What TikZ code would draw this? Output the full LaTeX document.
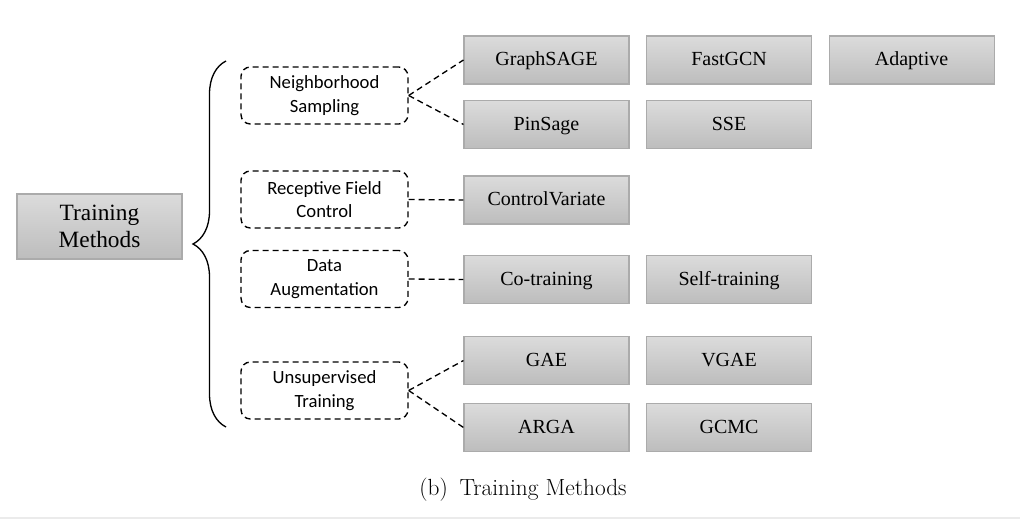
\documentclass[tikz,border=0pt]{standalone}
\usepackage{fontspec}
\usepackage{tikz}
\usetikzlibrary{positioning,decorations.pathreplacing}
\newfontfamily\catfont{Carlito}
\newfontfamily\boxfont{Liberation Serif}

\tikzset{
  method/.style={draw=black!33, line width=0.8pt, top color=black!14, bottom color=black!26,
    minimum width=123.75pt, minimum height=36pt, inner sep=0pt,
    text height=0.9em, text depth=0pt,
    font=\boxfont\fontsize{15}{17}\selectfont},
  root/.style={method, minimum height=48.75pt, align=center, text height=, text depth=,
    font=\boxfont\fontsize{17.5}{20}\selectfont},
  category/.style={draw, dash pattern=on 4.5pt off 3pt, line width=1pt, rounded corners=7pt,
    minimum width=125.25pt, minimum height=42.75pt, inner sep=0pt, align=center,
    font=\catfont\fontsize{14}{17.5}\selectfont},
  link/.style={dash pattern=on 4.5pt off 3pt, line width=1pt}
}

\begin{document}
\begin{tikzpicture}[x=0.75pt,y=-0.75pt,node distance=136.9pt]
            \useasboundingbox (0,0) rectangle (1020,520);
            \draw[black!8, line width=1pt] (0,518) -- (1020,518);

            \node[root]     (train) at (99.5,226.5) {Training\\Methods};

            \node[category] (ns) at (324.5,95.5)  {Neighborhood\\Sampling};
            \node[category] (rf) at (324.5,199.5) {Receptive Field\\Control};
            \node[category] (da) at (324.5,279)   {Data\\Augmentation};
            \node[category] (ut) at (324.5,390.5) {Unsupervised\\Training};

            \node[method] (graphsage) at (546.5,60)    {GraphSAGE};
            \node[method] (fastgcn)   [right of=graphsage] {FastGCN};
            \node[method] (adaptive)  [right of=fastgcn]   {Adaptive};
            \node[method] (pinsage)   at (546.5,124.5) {PinSage};
            \node[method] (sse)       [right of=pinsage]   {SSE};
            \node[method] (cv)        at (546.5,200)   {ControlVariate};
            \node[method] (cotrain)   at (546.5,279.5) {Co-training};
            \node[method] (selftrain) [right of=cotrain]   {Self-training};
            \node[method] (gae)       at (546.5,360.5) {GAE};
            \node[method] (vgae)      [right of=gae]       {VGAE};
            \node[method] (arga)      at (546.5,427.5) {ARGA};
            \node[method] (gcmc)      [right of=arga]      {GCMC};

            \coordinate (bracetop) at (226,61);
            \coordinate (bracebot) at (226,427);
            \draw[decorate, decoration={brace, amplitude=24.75pt}, line width=1pt]
                     (bracebot) -- (bracetop);

            \draw[link]
                     (ns.east) edge (graphsage.west)
                               edge (pinsage.west)
                     (rf.east) edge (cv.west)
                     (da.east) edge (cotrain.west)
                     (ut.east) edge (gae.west)
                               edge (arga.west);

            \node (caption) at (523,490) {\fontsize{17.5}{20}\selectfont (b)\hspace{0.5em}Training Methods};
        \end{tikzpicture}
\end{document}
